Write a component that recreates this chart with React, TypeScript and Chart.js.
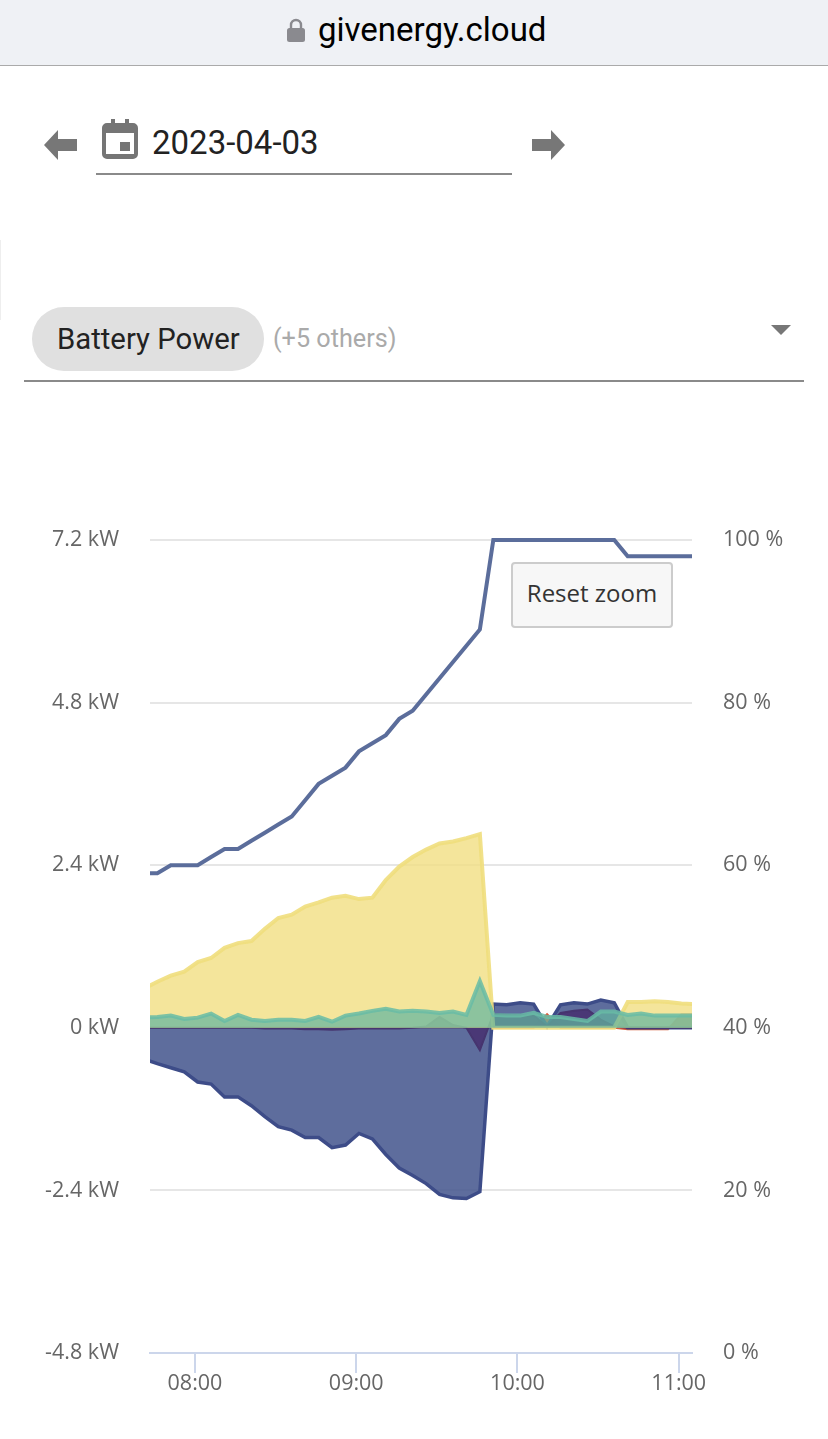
import React, { useEffect, useRef } from "react";
import { Chart, registerables } from "chart.js";

Chart.register(...registerables);

// Minutes after midnight, one reading every five minutes (07:41 to 11:06)
const minutes = [
  461, 466, 471, 476, 481, 486, 491, 496, 501, 506, 511, 516, 521, 526, 531, 536, 541, 546, 551, 556, 561,
  566, 571, 576, 581, 586, 591, 596, 601, 606, 611, 616, 621, 626, 631, 636, 641, 646, 651, 656, 661, 666,
];
const stateOfCharge = [
  59, 59, 60, 60, 60, 61, 62, 62, 63, 64, 65, 66, 68, 70, 71, 72, 74, 75, 76, 78, 79,
  81, 83, 85, 87, 89, 100, 100, 100, 100, 100, 100, 100, 100, 100, 100, 98, 98, 98, 98, 98, 98,
];
const solarPower = [
  0.58, 0.68, 0.77, 0.83, 0.97, 1.03, 1.18, 1.25, 1.28, 1.46, 1.62, 1.67, 1.79, 1.85, 1.92, 1.95, 1.9, 1.92, 2.18, 2.38, 2.52,
  2.63, 2.72, 2.75, 2.8, 2.86, 0, 0, 0, 0, 0, 0, 0, 0, 0, 0, 0.38, 0.38, 0.39, 0.38, 0.36, 0.35,
];
const batteryPower = [
  -0.46, -0.53, -0.59, -0.65, -0.8, -0.83, -1.02, -1.02, -1.15, -1.31, -1.46, -1.51, -1.62, -1.62, -1.77, -1.73, -1.56, -1.64, -1.87, -2.07, -2.18,
  -2.3, -2.46, -2.51, -2.52, -2.42, 0.35, 0.34, 0.37, 0.35, 0.02, 0.34, 0.37, 0.35, 0.41, 0.37, 0, 0, 0, 0, 0, 0,
];
const gridPower = [
  0, 0, 0, 0, 0, 0, 0, 0, 0, -0.01, -0.01, -0.01, -0.02, -0.02, -0.03, -0.02, -0.01, -0.01, -0.01, -0.01, 0,
  0.02, 0.16, 0.04, 0, -0.33, 0.2, 0.19, 0.18, 0.18, 0.02, 0.22, 0.25, 0.27, 0.12, 0.02, 0, 0, 0, 0, 0, 0,
];
const exportPower = [
  0, 0, 0, 0, 0, 0, 0, 0, 0, 0, 0, 0, 0, 0, 0, 0, 0, 0, 0, 0, 0,
  0, 0, 0, 0, 0, 0, 0, 0, 0, 0.2, 0, 0, 0, 0, 0, -0.02, -0.02, -0.02, -0.02, 0.2, 0.2,
];
const homeLoad = [
  0.15, 0.16, 0.18, 0.13, 0.15, 0.21, 0.1, 0.19, 0.12, 0.1, 0.12, 0.12, 0.1, 0.16, 0.09, 0.18, 0.21, 0.25, 0.28, 0.24, 0.25,
  0.24, 0.22, 0.24, 0.19, 0.69, 0.19, 0.18, 0.18, 0.22, 0.16, 0.16, 0.13, 0.1, 0.24, 0.24, 0.19, 0.21, 0.18, 0.18, 0.18, 0.18,
];
const powerTicks = [-4.8, -2.4, 0, 2.4, 4.8, 7.2];
const percentTicks = [0, 20, 40, 60, 80, 100];
const timeTicks = [480, 540, 600, 660];
const timeLabels = ["08:00", "09:00", "10:00", "11:00"];

const pts = (values: number[]) => values.map((y, i) => ({ x: minutes[i], y }));
const axisFont = { family: "'Open Sans', sans-serif", size: 21.5 };
const uiFont = "Roboto, 'Noto Sans', sans-serif";

const abs = (left: number, top: number, width: number, height: number): React.CSSProperties => ({
  position: "absolute",
  left,
  top,
  width,
  height,
});

function ChartView() {
  const ref = useRef<HTMLCanvasElement | null>(null);
  useEffect(() => {
    if (!ref.current) return;
    const area = (label: string, data: number[], fill: string, stroke: string, order: number, width = 3) => ({
      type: "line" as const,
      label,
      data: pts(data),
      yAxisID: "y",
      backgroundColor: fill,
      borderColor: stroke,
      borderWidth: width,
      fill: "origin",
      pointRadius: 0,
      tension: 0,
      order,
    });
    const chart = new Chart(ref.current, {
      type: "line",
      data: {
        datasets: [
          area("Export", exportPower, "rgba(214,84,50,0.9)", "rgba(214,84,50,0.95)", 6, 2),
          area("Battery Power", batteryPower, "rgba(66,84,140,0.85)", "#3d4c88", 5, 3.5),
          area("Grid Power", gridPower, "rgba(72,48,112,0.85)", "#46356f", 4, 2),
          area("Solar Power", solarPower, "rgba(241,222,130,0.8)", "rgba(240,222,125,0.9)", 3, 4),
          area("Load", homeLoad, "rgba(100,182,160,0.72)", "rgba(104,188,166,0.85)", 2, 4),
          {
            type: "line" as const,
            label: "State of Charge",
            data: pts(stateOfCharge),
            yAxisID: "y1",
            borderColor: "#5b6d9b",
            borderWidth: 4,
            pointRadius: 0,
            tension: 0,
            fill: false,
            order: 1,
            clip: { left: 0, top: 3, right: 0, bottom: 0 },
          },
        ] as any,
      },
      options: {
        animation: false,
        responsive: false,
        devicePixelRatio: 1,
        layout: { padding: { top: 60, left: 0, right: 0, bottom: 0 } },
        plugins: { legend: { display: false }, tooltip: { enabled: false } },
        scales: {
          x: {
            type: "linear",
            min: 463.26,
            max: 664.93,
            grid: {
              drawOnChartArea: false,
              drawTicks: true,
              tickLength: 20,
              color: "#ccd6eb",
              lineWidth: 2,
            },
            border: { color: "#ccd6eb", width: 2 },
            afterBuildTicks: (s: any) => {
              s.ticks = timeTicks.map((value) => ({ value }));
            },
            afterFit: (s: any) => {
              s.height = 86;
            },
            ticks: {
              autoSkip: false,
              maxRotation: 0,
              color: "#666666",
              font: axisFont,
              padding: -2,
              callback: (v: any) => timeLabels[timeTicks.indexOf(Number(v))] ?? "",
            },
          },
          y: {
            type: "linear",
            position: "left",
            min: -4.8,
            max: 7.2,
            grid: { color: "#e6e6e6", lineWidth: 2, drawTicks: false },
            border: { display: false },
            afterBuildTicks: (s: any) => {
              s.ticks = powerTicks.map((value) => ({ value }));
            },
            afterFit: (s: any) => {
              s.width = 150;
            },
            ticks: {
              color: "#666666",
              font: axisFont,
              padding: 31,
              callback: (v: any) => `${v} kW`,
            },
          },
          y1: {
            type: "linear",
            position: "right",
            min: 0,
            max: 100,
            grid: { drawOnChartArea: false, drawTicks: false },
            border: { display: false },
            afterBuildTicks: (s: any) => {
              s.ticks = percentTicks.map((value) => ({ value }));
            },
            afterFit: (s: any) => {
              s.width = 136;
            },
            ticks: {
              color: "#666666",
              font: axisFont,
              padding: 31,
              callback: (v: any) => `${v} %`,
            },
          },
        },
      },
    });
    return () => chart.destroy();
  }, []);
  return <canvas ref={ref} width={828} height={959} style={{ ...abs(0, 480, 828, 959), display: "block" }} />;
}

export default function App() {
  return (
    <div style={{ ...abs(0, 0, 828, 1439), background: "#fff", overflow: "hidden", fontFamily: uiFont }}>
      <div style={{ ...abs(0, 0, 828, 65), background: "#eff1f5", borderBottom: "1px solid #aaaaaa" }} />
      <svg style={abs(286, 18, 20, 25)} viewBox="0 0 20 25">
        <path d="M5 11V7a5 5 0 0 1 10 0v4" fill="none" stroke="#8a8a8f" strokeWidth="2.4" />
        <rect x="1" y="10" width="18" height="14" rx="2.5" fill="#8a8a8f" />
      </svg>
      <div style={{ ...abs(318, 10, 240, 40), fontSize: 33, lineHeight: "40px", color: "#000", whiteSpace: "nowrap" }}>
        givenergy.cloud
      </div>

      <svg style={abs(44, 129, 33, 32)} viewBox="0 0 33 32">
        <path d="M0 16 L14 1 V10 H33 V22 H14 V31 Z" fill="#777" />
      </svg>
      <svg style={abs(101, 118, 38, 42)} viewBox="0 0 38 42">
        <path
          d="M6 5h4V1h4v4h10V1h4v4h4a5 5 0 0 1 5 5v26a5 5 0 0 1-5 5H6a5 5 0 0 1-5-5V10a5 5 0 0 1 5-5z M5 15v21h28V15z"
          fill="#757575"
          fillRule="evenodd"
        />
        <rect x="19" y="24" width="10" height="9" fill="#757575" />
      </svg>
      <div style={{ ...abs(152, 122, 200, 42), fontSize: 33, lineHeight: "42px", color: "#222", whiteSpace: "nowrap" }}>
        2023-04-03
      </div>
      <div style={{ ...abs(96, 173, 416, 2), background: "#8a8a8a" }} />
      <svg style={abs(532, 129, 33, 32)} viewBox="0 0 33 32">
        <path d="M33 16 L19 1 V10 H0 V22 H19 V31 Z" fill="#777" />
      </svg>

      <div style={{ ...abs(0, 240, 1, 80), background: "#eeeeee" }} />
      <div style={{ ...abs(32, 307, 232, 64), background: "#e0e0e0", borderRadius: 32 }} />
      <div style={{ ...abs(57, 319, 200, 40), fontSize: 29.3, lineHeight: "40px", color: "#222", whiteSpace: "nowrap" }}>
        Battery Power
      </div>
      <div style={{ ...abs(273, 322, 140, 34), fontSize: 25.2, lineHeight: "34px", color: "#aaaaaa", whiteSpace: "nowrap" }}>
        (+5 others)
      </div>
      <svg style={abs(771, 325, 20, 10)} viewBox="0 0 20 10">
        <path d="M0 0H20L10 10Z" fill="#777" />
      </svg>
      <div style={{ ...abs(24, 380, 780, 2), background: "#8a8a8a" }} />

      <ChartView />

      <div
        style={{
          ...abs(511, 562, 162, 66),
          boxSizing: "border-box",
          background: "#f7f7f7",
          border: "2px solid #cccccc",
          borderRadius: 4,
          color: "#333333",
          fontFamily: "'Open Sans', sans-serif",
          fontSize: 24,
          lineHeight: "58px",
          textAlign: "center",
          whiteSpace: "nowrap",
        }}
      >
        Reset zoom
      </div>
    </div>
  );
}
